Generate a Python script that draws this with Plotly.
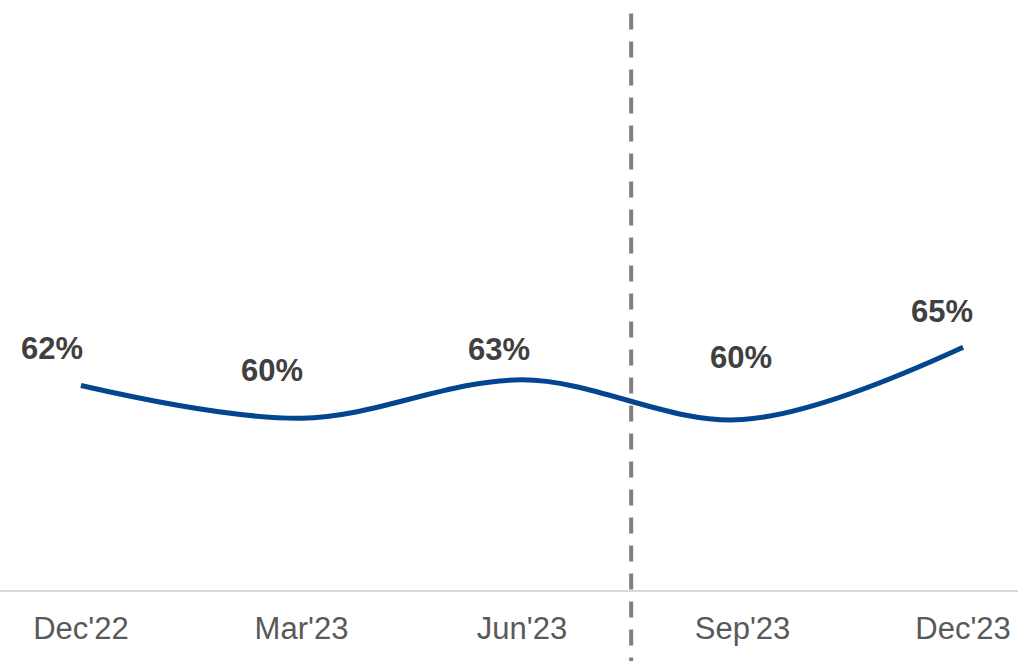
import plotly.graph_objects as go

categories = ["Dec'22", "Mar'23", "Jun'23", "Sep'23", "Dec'23"]
values = [62.3, 60.0, 62.7, 59.9, 65.0]
labels = ["62%", "60%", "63%", "60%", "65%"]

# label offsets (pixels) relative to each point — styling only
label_dx = [-29, -29, -23, -2, -21]
label_dy = [37, 48, 30, 62, 36]

x_idx = list(range(len(categories)))

fig = go.Figure()
fig.add_trace(go.Scatter(
    x=x_idx, y=values, mode="lines",
    line=dict(color="#03468F", width=5, shape="spline", smoothing=1),
    hoverinfo="skip", showlegend=False,
))

for i, (xv, yv, t) in enumerate(zip(x_idx, values, labels)):
    fig.add_annotation(
        x=xv, y=yv, text=f"<b>{t}</b>", showarrow=False,
        xshift=label_dx[i], yshift=label_dy[i],
        font=dict(family="Liberation Sans, Arial", size=31, color="#404040"),
    )

fig.add_shape(
    type="line", xref="x", yref="paper",
    x0=2.495, x1=2.495, y0=0.977, y1=-0.125,
    line=dict(color="#7F7F7F", width=4, dash="16px,12px"),
)

fig.update_layout(
    width=1018, height=661,
    margin=dict(l=0, r=0, t=0, b=71, autoexpand=False),
    plot_bgcolor="white", paper_bgcolor="white",
    font=dict(family="Liberation Sans, Arial", color="#595959"),
    xaxis=dict(
        range=[-0.367, 4.249], tickvals=x_idx, ticktext=categories,
        showgrid=False, zeroline=False, showline=True, automargin=False,
        linecolor="#D9D9D9", linewidth=2,
        ticks="outside", ticklen=10, tickcolor="rgba(0,0,0,0)",
        tickfont=dict(family="Liberation Sans, Arial", size=31, color="#595959"),
    ),
    yaxis=dict(
        range=[47.9, 89.45], visible=False, showgrid=False, zeroline=False,
        automargin=False,
    ),
)

fig.write_html(
    "out.html",
    config={"displayModeBar": False, "staticPlot": True},
    post_script="document.body.style.margin='0';document.body.style.overflow='hidden';",
)
